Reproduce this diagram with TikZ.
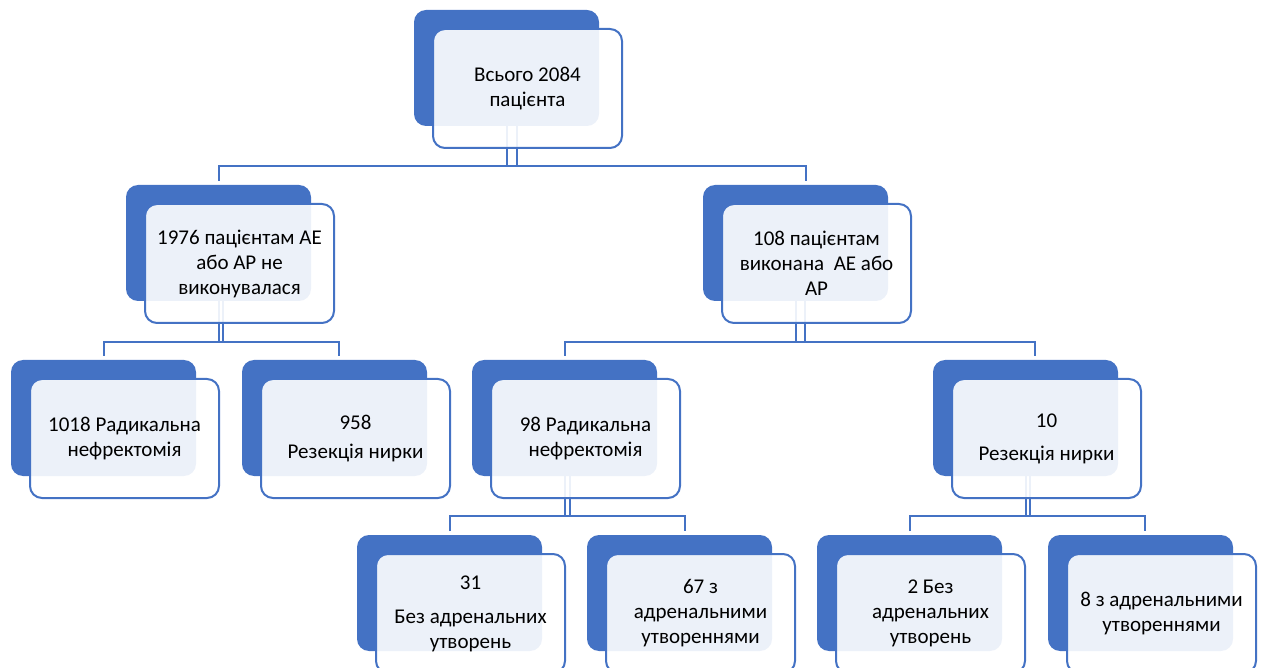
\documentclass[tikz,border=0pt]{standalone}
\usepackage{fontspec}
\setmainfont{Carlito}
\usetikzlibrary{calc}
\definecolor{accent}{HTML}{4472C4}
\tikzset{
  backbox/.style={fill=accent, draw=none, rounded corners=12pt, minimum width=185pt, minimum height=116pt, inner sep=0pt, outer sep=0pt, anchor=north west},
  frontbox/.style={fill=white, fill opacity=0.9, draw=accent, line width=2pt, rounded corners=12pt, minimum width=189pt, minimum height=119pt, inner sep=0pt, outer sep=0pt, anchor=north west},
  txt/.style={align=center, font=\fontsize{21}{25}\selectfont, text=black, inner sep=0pt},
  conn/.style={draw=accent, line width=2pt, line join=miter},
}
\newcommand\mktree[5]{%
  \draw[conn] (#1b.south) -- (#1b.south |- #4);
  \draw[conn] ($(#1b.south)+(#5,0)$) -- ($(#1b.south |- #4)+(#5,0)$);
  \draw[conn] ($(#2b.north)+(0,-4)$) -- (#2b.north |- #4) -- ($(#3b.north |- #4)+(#5,0)$) -- ($(#3b.north)+(#5,-4)$);
}
\begin{document}
\begin{tikzpicture}[x=1pt,y=-1pt]
\useasboundingbox (0,0) rectangle (1262,668);
\clip (0,0) rectangle (1262,668);
% back boxes
\node[backbox] (topb) at (414,10) {};
\node[backbox] (lb) at (126,185) {};
\node[backbox] (rb) at (703,185) {};
\node[backbox] (ab) at (11,360) {};
\node[backbox] (bb) at (242,360) {};
\node[backbox] (cb) at (472,360) {};
\node[backbox] (db) at (933,360) {};
\node[backbox] (eb) at (357,535) {};
\node[backbox] (fb) at (587,535) {};
\node[backbox] (gb) at (817,535) {};
\node[backbox] (hb) at (1048,535) {};
% bars
\coordinate (bar0) at (0,166);
\coordinate (bar1) at (0,342);
\coordinate (bar2) at (0,516);
% connectors
\mktree{top}{l}{r}{bar0}{10}
\mktree{l}{a}{b}{bar1}{4.5}
\mktree{r}{c}{d}{bar1}{9}
\mktree{c}{e}{f}{bar2}{5}
\mktree{d}{g}{h}{bar2}{4.5}
% front boxes
\node[frontbox] (topf) at (433,29) {};
\node[frontbox] (lf) at (145,204) {};
\node[frontbox] (rf) at (722,204) {};
\node[frontbox] (af) at (30,379) {};
\node[frontbox] (bf) at (261,379) {};
\node[frontbox] (cf) at (491,379) {};
\node[frontbox] (df) at (952,379) {};
\node[frontbox] (ef) at (376,554) {};
\node[frontbox] (ff) at (606,554) {};
\node[frontbox] (gf) at (836,554) {};
\node[frontbox] (hf) at (1067,554) {};
% texts
\node[txt] (topt) at (topf.center) {Всього 2084\\пацієнта};
\node[txt] (lt) at (lf.center) {1976 пацієнтам АЕ\\або АР не\\виконувалася};
\node[txt] (rt) at (rf.center) {108 пацієнтам\\виконана~~АЕ або\\АР};
\node[txt] (at) at (af.center) {1018 Радикальна\\нефректомія};
\node[txt] (bt) at (bf.center) {958\\[4pt]Резекція нирки};
\node[txt] (ct) at (cf.center) {98 Радикальна\\нефректомія};
\node[txt] (dt) at (df.center) {10\\[8pt]Резекція нирки};
\node[txt] (et) at (ef.center) {31\\[9pt]Без адренальних\\утворень};
\node[txt] (ft) at (ff.center) {67 з\\адренальними\\утвореннями};
\node[txt] (gt) at (gf.center) {2 Без\\адренальних\\утворень};
\node[txt] (ht) at (hf.center) {8 з адренальними\\утвореннями};
\end{tikzpicture}
\end{document}
